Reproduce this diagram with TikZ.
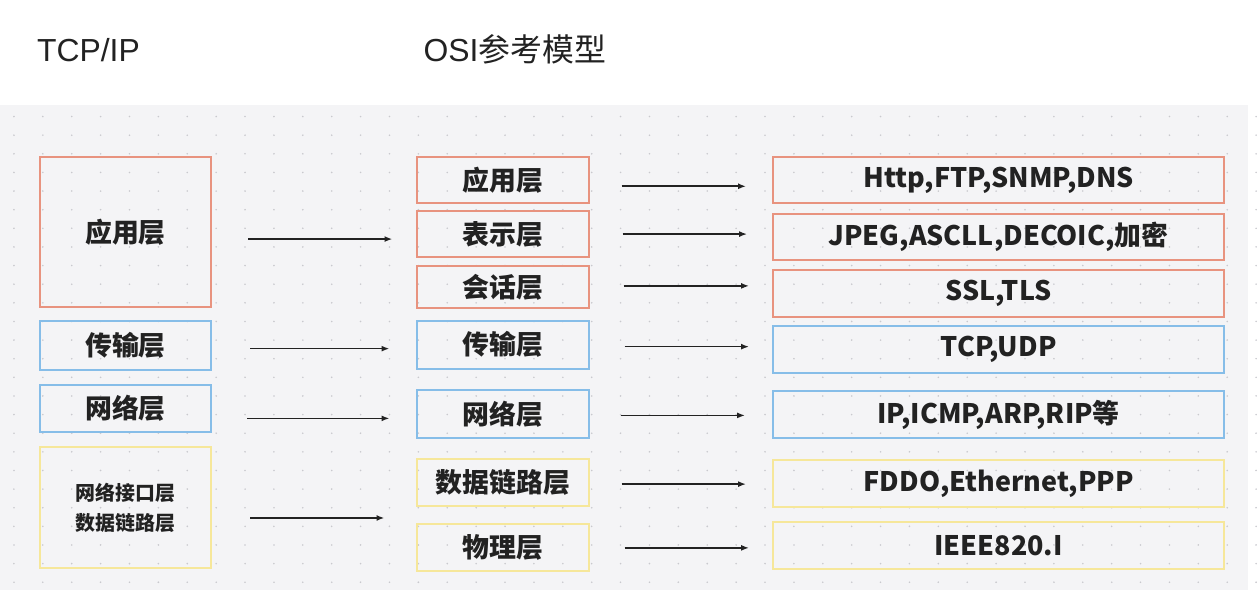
\documentclass[tikz,border=0pt]{standalone}
\usepackage{fontspec}
\setmainfont{Liberation Sans}
\newfontfamily\cjk{Noto Sans CJK SC}
\usepackage{tikz}
\usetikzlibrary{arrows.meta}

\definecolor{bggray}{HTML}{F4F4F6}
\definecolor{dotgray}{HTML}{C9C9CE}
\definecolor{tcred}{HTML}{E8937F}
\definecolor{tcblue}{HTML}{86BDE8}
\definecolor{tcyellow}{HTML}{F6E79A}
\definecolor{ink}{HTML}{222222}

\tikzset{
  layer/.style={draw,line width=2pt,inner sep=0pt,text=ink,
    font=\cjk\bfseries\fontsize{27}{30}\selectfont},
  redbox/.style={layer,draw=tcred},
  bluebox/.style={layer,draw=tcblue},
  yellowbox/.style={layer,draw=tcyellow},
  midcol/.style={minimum width=172pt},
  protocol/.style={minimum width=453pt,minimum height=47pt},
  arr/.style={-{Latex[length=8pt,width=6pt]},line width=1.6pt,draw=ink},
  heading/.style={anchor=base west,inner sep=0pt,text=ink,
    font=\fontsize{32}{36}\selectfont}
}

\begin{document}
\begin{tikzpicture}[x=1pt,y=-1pt]
			\fill[white] (0,0) rectangle (1257,598);
			\fill[bggray] (0,105) rectangle (1253,592);
			\foreach \i in {0,...,43}
				\foreach \j in {0,...,25}
					\fill[dotgray] (14+29*\i,117+18.7*\j) circle (0.9pt);
			
			\node[heading] (tcpip) at (37,62) {TCP/IP};
			\node[heading] (osi) at (425,62) {OSI{\cjk 参考模型}};
			
			\node[redbox,minimum width=172pt,minimum height=150pt] (L1) at (126,233) {应用层};
			\node[bluebox,minimum width=172pt,minimum height=49pt] (L2) at (126,346.5) {传输层};
			\node[bluebox,minimum width=172pt,minimum height=48pt] (L3) at (126,410) {网络层};
			\node[yellowbox,minimum width=172pt,minimum height=121pt,align=center,
				font=\cjk\bfseries\fontsize{20}{30}\selectfont] (L4) at (126,509.5) {网络接口层\\数据链路层};
			
			\node[redbox,midcol,minimum height=46pt] (M1) at (505,181) {应用层};
			\node[redbox,midcol,minimum height=46pt] (M2) at (505,235) {表示层};
			\node[redbox,midcol,minimum height=42pt] (M3) at (505,288) {会话层};
			\node[bluebox,midcol,minimum height=48pt] (M4) at (505,346) {传输层};
			\node[bluebox,midcol,minimum height=48pt] (M5) at (505,416) {网络层};
			\node[yellowbox,midcol,minimum height=47pt] (M6) at (505,484.5) {数据链路层};
			\node[yellowbox,midcol,minimum height=47pt] (M7) at (505,549.5) {物理层};
			
			\node[redbox,protocol,minimum height=46pt] (R1) at (1002.5,181) {Http,FTP,SNMP,DNS};
			\node[redbox,protocol,minimum height=46pt] (R2) at (1002.5,238) {JPEG,ASCLL,DECOIC,加密};
			\node[redbox,protocol] (R3) at (1002.5,294.5) {SSL,TLS};
			\node[bluebox,protocol] (R4) at (1002.5,350.5) {TCP,UDP};
			\node[bluebox,protocol] (R5) at (1002.5,416.5) {IP,ICMP,ARP,RIP等};
			\node[yellowbox,protocol] (R6) at (1002.5,485.5) {FDDO,Ethernet,PPP};
			\node[yellowbox,protocol] (R7) at (1002.5,547.5) {IEEE820.I};
			
			\draw[arr] ([shift={(36,7)}]L1.east) -- +(145,0);
			\draw[arr] ([shift={(38,3.5)}]L2.east) -- +(140,0);
			\draw[arr] ([shift={(35,10)}]L3.east) -- +(143,0);
			\draw[arr] ([shift={(38,10.5)}]L4.east) -- +(135,0);
			
			\draw[arr] ([shift={(32,6)}]M1.east) -- +(125,0);
			\draw[arr] ([shift={(33,0)}]M2.east) -- +(125,0);
			\draw[arr] ([shift={(34,-1)}]M3.east) -- +(126,0);
			\draw[arr] ([shift={(35,2)}]M4.east) -- +(125,0);
			\draw[arr] ([shift={(31,1)}]M5.east) -- +(125,0);
			\draw[arr] ([shift={(32,1.5)}]M6.east) -- +(125,0);
			\draw[arr] ([shift={(35,0.5)}]M7.east) -- +(125,0);
		\end{tikzpicture}
\end{document}
